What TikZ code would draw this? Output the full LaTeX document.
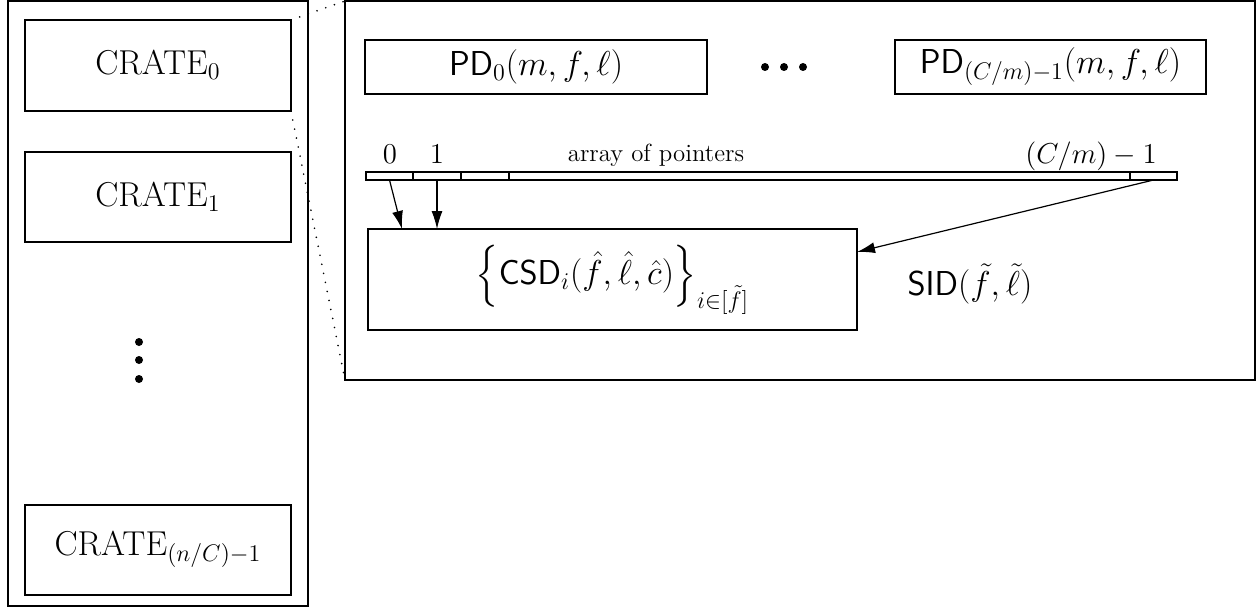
\documentclass[tikz,border=0pt]{standalone}
\usepackage{amsmath}
\usetikzlibrary{arrows.meta}
\tikzset{
  box/.style={draw, line width=0.6pt, inner sep=0pt, outer sep=0pt},
  cell/.style={box, minimum height=4pt},
  crate/.style={box, font=\fontsize{17.5}{20}\selectfont, minimum width=133pt},
  pd/.style={box, font=\fontsize{16.8}{20}\selectfont, minimum height=27pt},
  big/.style={font=\fontsize{18.5}{22}\selectfont},
  lab/.style={font=\fontsize{14}{16}\selectfont, anchor=base},
  zoomline/.style={line width=0.9pt, line cap=round, dash pattern=on 0pt off 4.6pt}
}
\begin{document}
\begin{tikzpicture}[x=0.5pt, y=-0.5pt, >={Latex[length=9pt,width=5.5pt]}]
  \useasboundingbox (0,0) rectangle (1257,610);
  \node (L) [box, minimum width=150pt, minimum height=302.5pt] at (158,303.5) {};
  \node (C0) [crate, minimum height=45.5pt] at (158,65.5) {$\mathrm{CRATE}_0$};
  \node (C1) [crate, minimum height=45pt] at (158,197) {$\mathrm{CRATE}_1$};
  \node (Cn) [crate, minimum height=45pt] at (158,550) {$\mathrm{CRATE}_{(n/C)-1}$};
  \fill (139,342) circle (2pt) (139,360) circle (2pt) (139,379) circle (2pt);

  \node (R) [box, minimum width=455pt, minimum height=189.5pt] at (800,190.5) {};
  \node (P0) [pd, minimum width=171pt] at (536,67) {$\mathsf{PD}_0(m,f,\ell)$};
  \node (Pn) [pd, minimum width=155.5pt] at (1050.5,67) {$\mathsf{PD}_{(C/m)-1}(m,f,\ell)$};
  \fill (765,67) circle (2pt) (784,67) circle (2pt) (803,67) circle (2pt);

  \node (a0) [cell, minimum width=23.5pt] at (389.5,176) {};
  \node (a1) [cell, minimum width=24pt] at (437,176) {};
  \node (a2) [cell, minimum width=24pt] at (485,176) {};
  \node (a3) [cell, minimum width=310.5pt] at (819.5,176) {};
  \node (a4) [cell, minimum width=23.5pt] at (1153.5,176) {};
  \node [lab] at (390,163) {$0$};
  \node [lab] at (437,163) {$1$};
  \node [lab, font=\fontsize{12.4}{14}\selectfont] at (656,162) {array of pointers};
  \node [lab] at (1091,163) {$(C/m)-1$};

  \node (S) [box, big, minimum width=244.5pt, minimum height=50.5pt] at (612.5,279.5)
    {$\Big\{\mathsf{CSD}_i(\hat{f},\hat{\ell},\hat{c})\Big\}_{i\in[\tilde{f}]}$};
  \node (T) [big] at (970,284) {$\mathsf{SID}(\tilde{f},\tilde{\ell})$};

  \path[->, line width=0.6pt] (a0.south) edge ([xshift=17pt]S.north west)
      (a1.south) edge ([xshift=34.5pt]S.north west)
      (a4.south) edge ([yshift=13.75pt]S.east);
  \draw[zoomline] (C0.north east) -- (R.north west);
  \draw[zoomline] (C0.south east) -- (R.south west);
\end{tikzpicture}
\end{document}
